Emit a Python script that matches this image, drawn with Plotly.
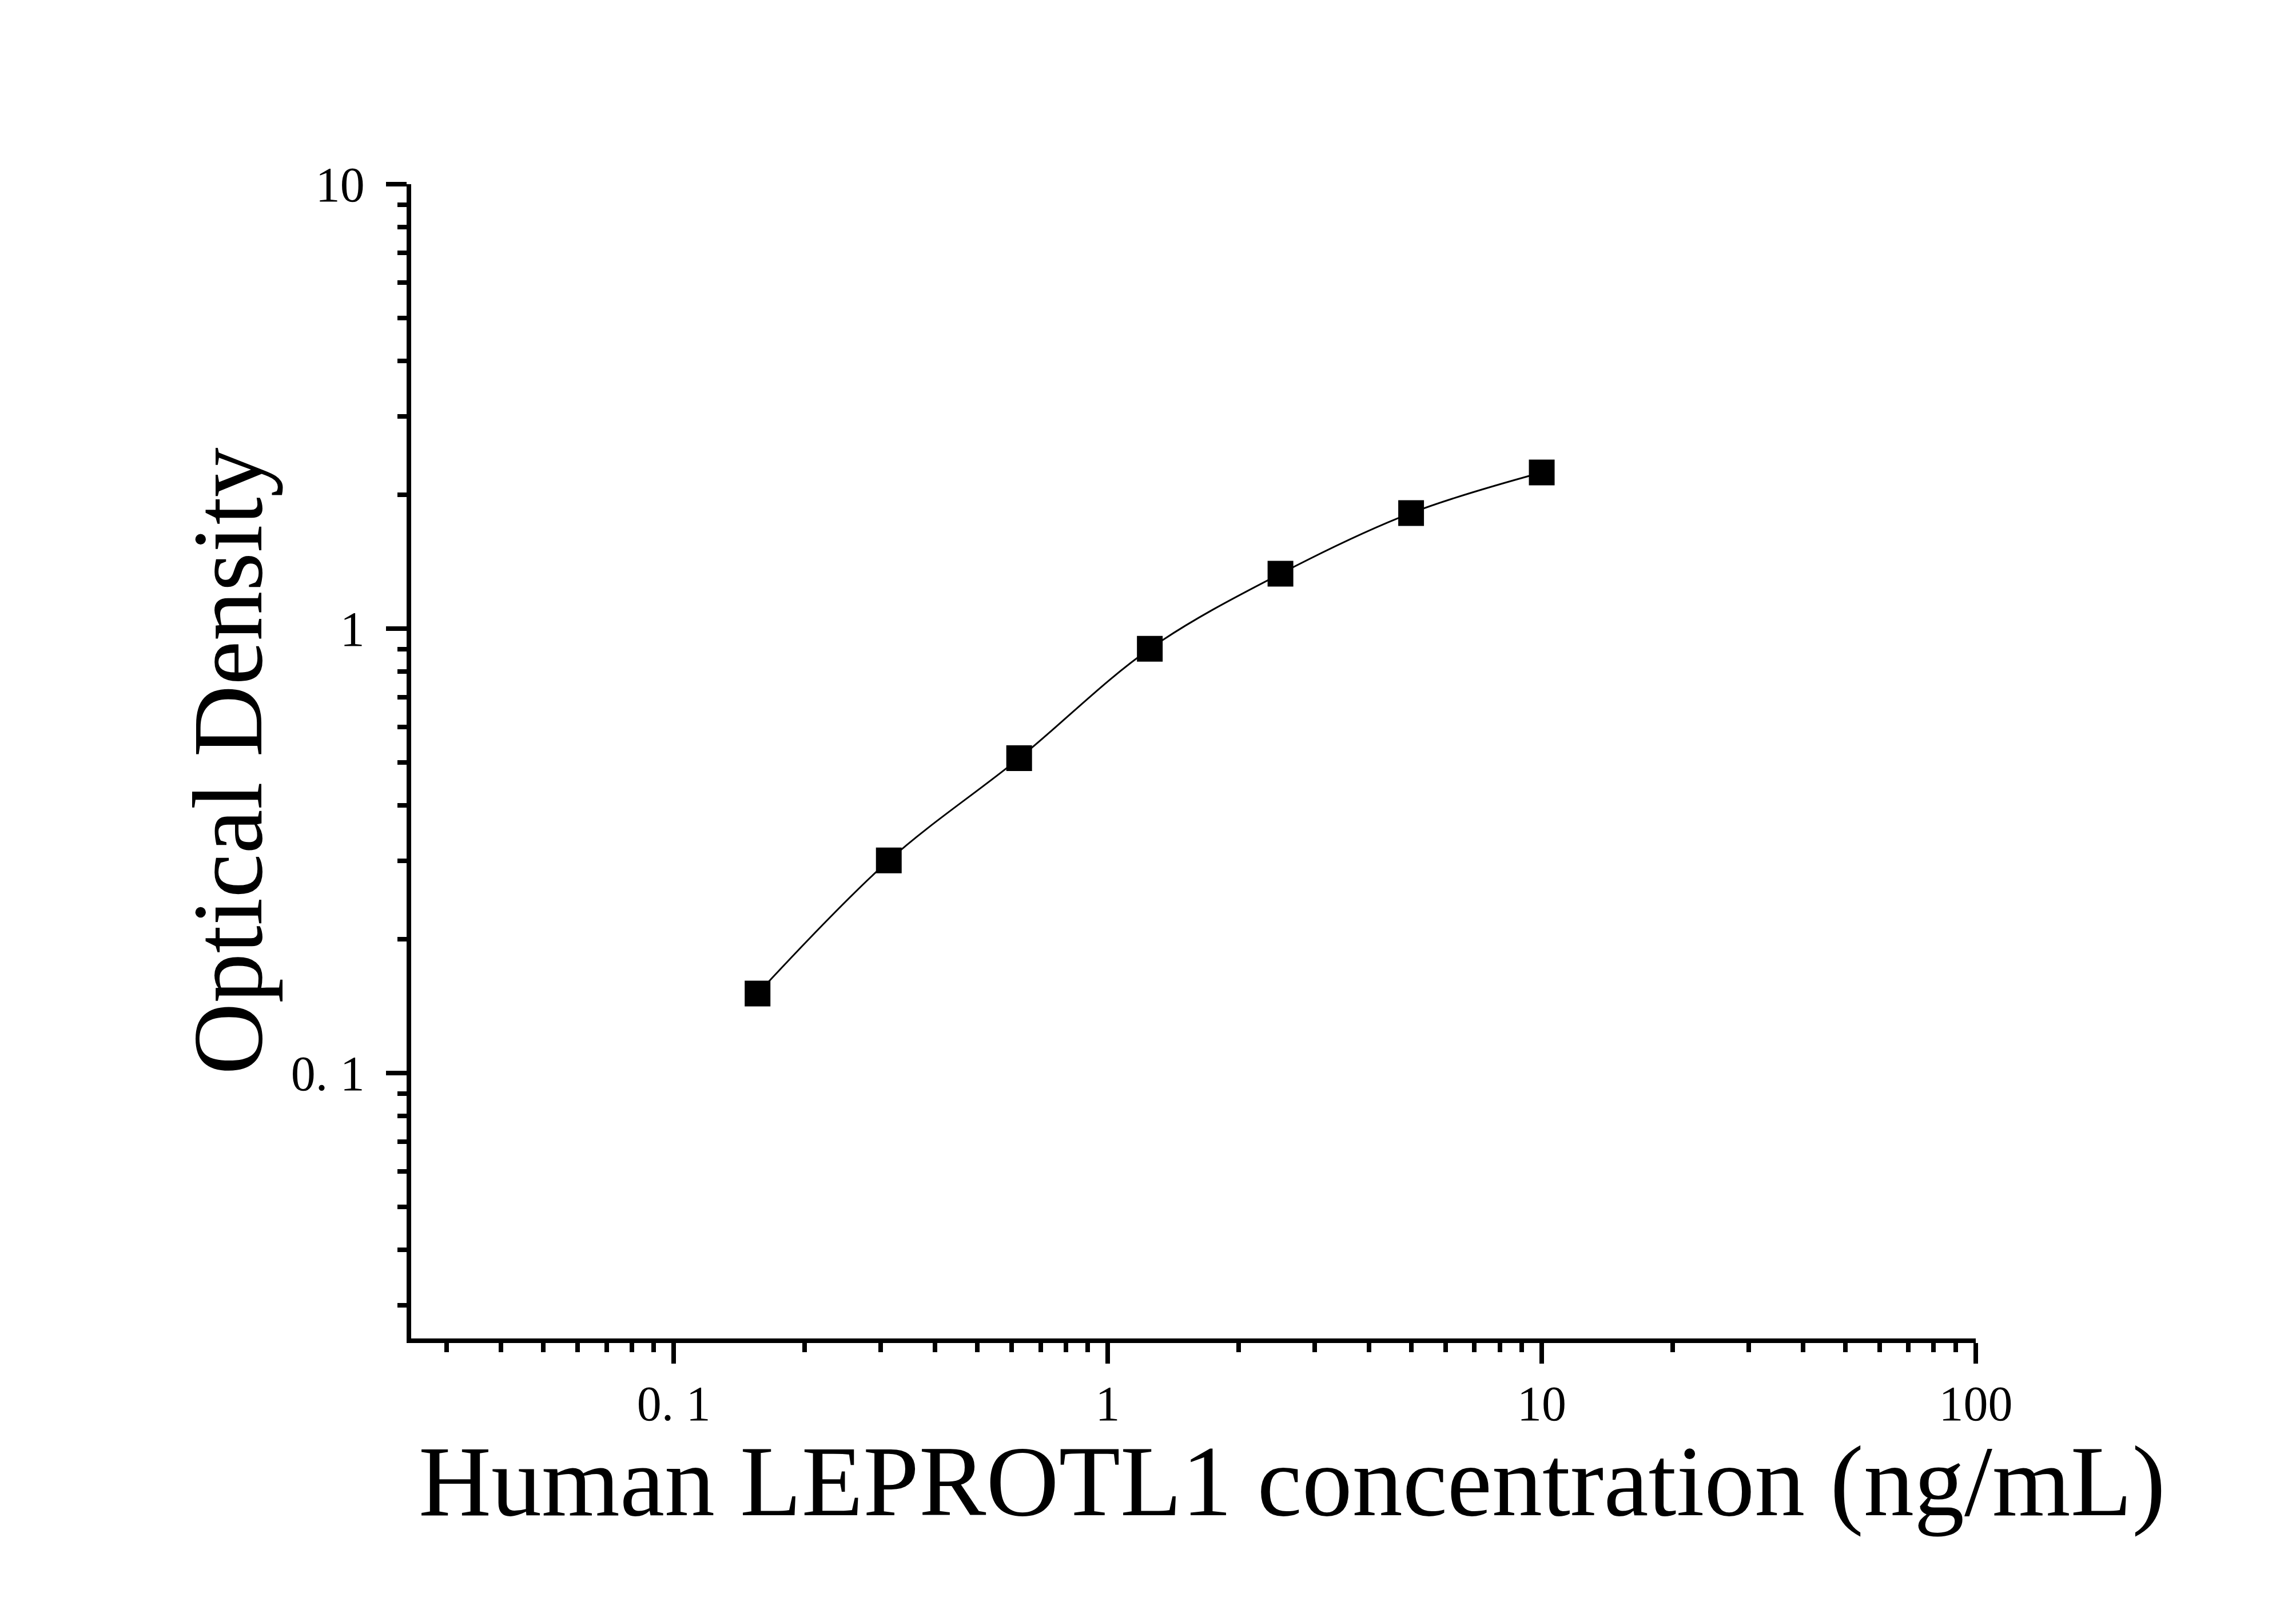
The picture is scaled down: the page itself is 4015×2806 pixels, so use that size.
import plotly.graph_objects as go

# standard concentrations (ng/mL) and measured OD
conc = [0.156, 0.313, 0.625, 1.25, 2.5, 5, 10]
od = [0.151, 0.301, 0.511, 0.901, 1.329, 1.820, 2.246]

x_tickvals = [0.1, 1, 10, 100]
x_ticktext = ["0. 1", "1", "10", "100"]
y_tickvals = [0.1, 1, 10]
y_ticktext = ["0. 1", "1", "10"]

FONT = "Liberation Serif"

fig = go.Figure()
fig.add_trace(go.Scatter(
    x=conc,
    y=od,
    mode="lines+markers",
    line=dict(color="black", width=3, shape="spline", smoothing=1),
    marker=dict(symbol="square", size=45, color="black"),
    showlegend=False,
))

axis_common = dict(
    type="log",
    showline=True,
    linecolor="black",
    linewidth=8,
    ticks="outside",
    ticklen=36,
    tickwidth=8,
    tickcolor="black",
    tickmode="array",
    showgrid=False,
    zeroline=False,
    tickfont=dict(family=FONT, size=86, color="black"),
    minor=dict(ticks="outside", ticklen=16, tickwidth=8, tickcolor="black",
               dtick="D1", showgrid=False),
)

fig.update_xaxes(**axis_common, range=[-1.605, 2.0],
                 tickvals=x_tickvals, ticktext=x_ticktext, ticklabelstandoff=-4)
fig.update_yaxes(**axis_common, range=[-1.597, 1.0],
                 tickvals=y_tickvals, ticktext=y_ticktext, ticklabelstandoff=20)

fig.add_annotation(
    text="Human LEPROTL1 concentration (ng/mL)",
    xref="paper", yref="paper", x=0.563, y=0,
    xanchor="center", yanchor="top", yshift=-150,
    showarrow=False,
    font=dict(family=FONT, size=176, color="black"),
)
fig.add_annotation(
    text="Optical Density",
    xref="paper", yref="paper", x=-0.1173, y=0.5,
    xanchor="center", yanchor="middle", textangle=-90,
    showarrow=False,
    font=dict(family=FONT, size=174, color="black"),
)

# page body adds 8px; keep the plot area where the reference has it
fig.update_layout(
    width=3999,
    height=2790,
    margin=dict(l=711, r=552, t=314, b=458, pad=0),
    paper_bgcolor="white",
    plot_bgcolor="white",
)

fig.write_html("out.html")
